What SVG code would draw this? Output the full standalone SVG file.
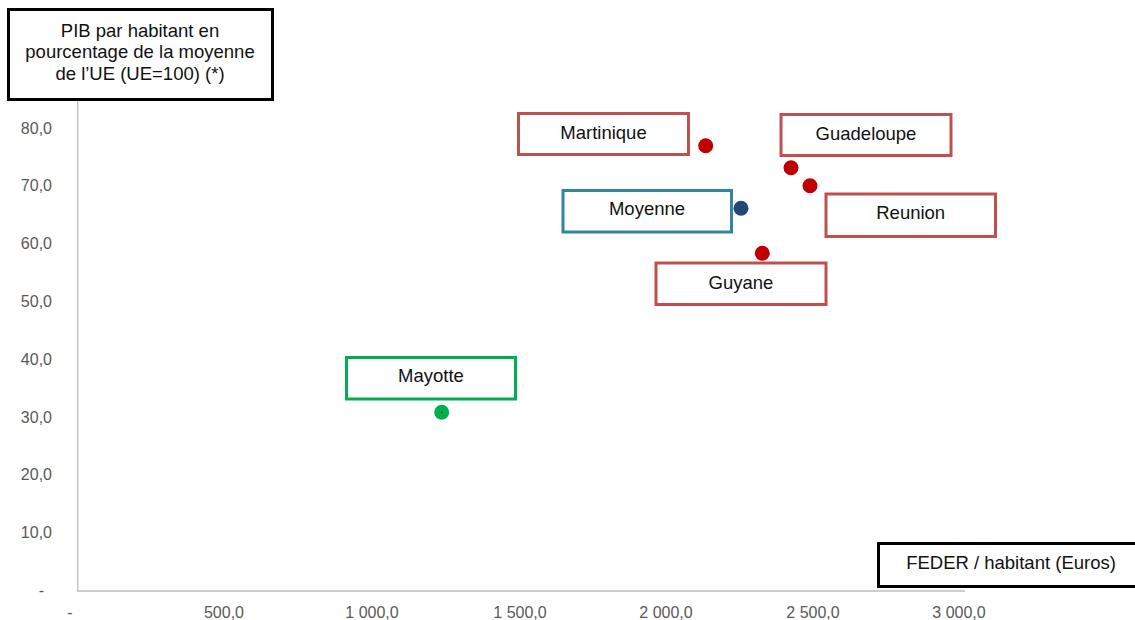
<svg xmlns="http://www.w3.org/2000/svg" width="1135" height="620" viewBox="0 0 1135 620">
<style>
text{font-family:"Liberation Sans",Arial,sans-serif}
.tick{font-size:16px;fill:#595959}
.lbl{font-size:18.5px;fill:#111;text-anchor:middle}
.ttl{font-size:18.5px;fill:#111;text-anchor:middle}
.box{fill:#fff;stroke-width:3}
.red{stroke:#C0504D}
.teal{stroke:#31859C}
.green{stroke:#00B050}
.blk{stroke:#000;stroke-width:3;fill:#fff}
.axis{stroke:#BFBFBF;stroke-width:1.3;fill:none}
</style>
<rect width="1135" height="620" fill="#fff"/>
<g id="axes">
<line class="axis" x1="77.7" y1="98" x2="77.7" y2="591"/>
<line class="axis" x1="77" y1="591" x2="965" y2="591"/>
<g class="tick" text-anchor="end">
<text x="52" y="134">80,0</text>
<text x="52" y="191">70,0</text>
<text x="52" y="249">60,0</text>
<text x="52" y="307">50,0</text>
<text x="52" y="365">40,0</text>
<text x="52" y="423">30,0</text>
<text x="52" y="480">20,0</text>
<text x="52" y="538">10,0</text>
<text x="44" y="596">-</text>
</g>
<g class="tick" text-anchor="middle">
<text x="70" y="618">-</text>
<text x="224" y="618">500,0</text>
<text x="372" y="618">1 000,0</text>
<text x="520" y="618">1 500,0</text>
<text x="666" y="618">2 000,0</text>
<text x="813" y="618">2 500,0</text>
<text x="959" y="618">3 000,0</text>
</g>
</g>
<g id="yTitle">
<rect class="blk" x="8.5" y="9.5" width="264" height="90"/>
<text class="ttl" x="140" y="36.5">PIB par habitant en</text>
<text class="ttl" x="140" y="58.3">pourcentage de la moyenne</text>
<text class="ttl" x="140" y="80">de l’UE (UE=100) (*)</text>
</g>
<g id="xTitle">
<rect class="blk" x="878.5" y="543.5" width="270" height="43"/>
<text class="ttl" x="1011" y="568.5">FEDER / habitant (Euros)</text>
</g>
<g id="points">
<circle cx="705.7" cy="145.7" r="7.5" fill="#C00000"/>
<circle cx="791" cy="167.7" r="7.5" fill="#C00000"/>
<circle cx="810" cy="185.7" r="7.5" fill="#C00000"/>
<circle cx="762.3" cy="253.3" r="7.5" fill="#C00000"/>
<circle cx="741" cy="208.3" r="7.5" fill="#1F497D"/>
<circle cx="741" cy="208.3" r="0.8" fill="#C00000"/>
<circle cx="441.7" cy="412.3" r="7.5" fill="#00B050"/>
<circle cx="441.7" cy="412.3" r="0.8" fill="#C00000"/>
</g>
<g id="martinique">
<rect class="box red" x="518.5" y="113.5" width="170" height="41"/>
<text class="lbl" x="603.5" y="138.5">Martinique</text>
</g>
<g id="guadeloupe">
<rect class="box red" x="781" y="114.5" width="170" height="41"/>
<text class="lbl" x="866" y="140">Guadeloupe</text>
</g>
<g id="moyenne">
<rect class="box teal" x="563" y="190.5" width="168.5" height="41.5"/>
<text class="lbl" x="647" y="215">Moyenne</text>
</g>
<g id="reunion">
<rect class="box red" x="826" y="194" width="169.5" height="42.5"/>
<text class="lbl" x="910.7" y="218.5">Reunion</text>
</g>
<g id="guyane">
<rect class="box red" x="656" y="263" width="170" height="41.5"/>
<text class="lbl" x="741" y="289">Guyane</text>
</g>
<g id="mayotte">
<rect class="box green" x="346.5" y="357.5" width="169" height="41.5"/>
<text class="lbl" x="431" y="382">Mayotte</text>
</g>
</svg>
